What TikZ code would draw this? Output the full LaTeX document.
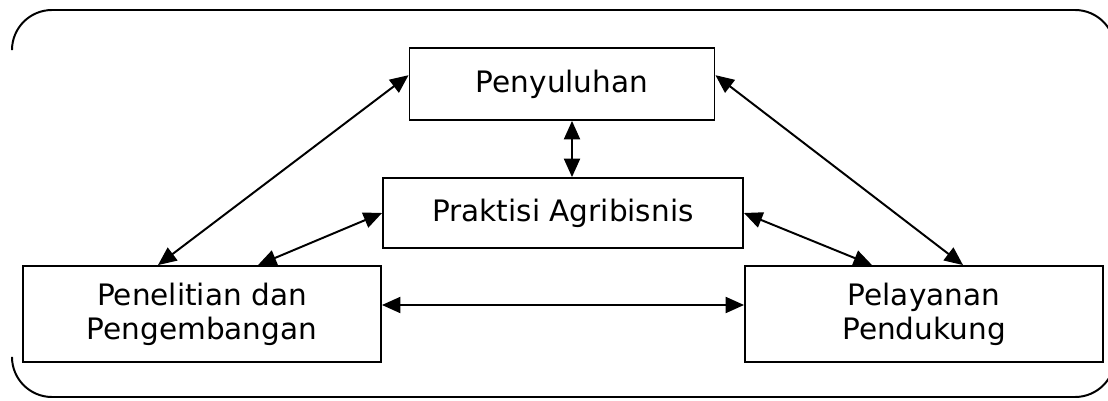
\documentclass[tikz,border=0pt]{standalone}
\usepackage{fontspec}
\setmainfont{DejaVu Sans}
\usepackage{tikz}
\usetikzlibrary{calc,math}
\usetikzlibrary{arrows.meta,positioning}

\begin{document}
\begin{tikzpicture}[x=0.025cm,y=-0.025cm,
        every node/.style={draw,line width=1.3pt,align=center,font=\fontsize{21}{24}\selectfont},
        dbl/.style={{Triangle[length=4.6mm,width=4mm]}-{Triangle[length=4.6mm,width=4mm]},line width=1.4pt}]
        \tikzmath{
            let \lft = 12;
            let \rgt = 1115;
        }
        \useasboundingbox (0,0) rectangle (1108,400);
        \clip (0,0) rectangle (1108,400);

        % frame, only its corners and long sides show
        \draw[line width=1.4pt,rounded corners=1cm] (\lft,50) -- (\lft,10) -- (\rgt,10) -- (\rgt,50);
        \draw[line width=1.4pt,rounded corners=1cm] (\lft,357) -- (\lft,397) -- (\rgt,397) -- (\rgt,357);

        \node[minimum width=7.625cm,minimum height=1.8cm] (yul) at (562,84) {Penyuluhan};
        \node[minimum width=9cm,minimum height=1.75cm] (prak) at (563,213) {Praktisi Agribisnis};
        \node[minimum width=8.95cm,minimum height=2.4cm] (pen) at (202,314) {Penelitian dan\\Pengembangan};
        \node[minimum width=8.95cm,minimum height=2.4cm] (yan) at (924,314) {Pelayanan\\Pendukung};

        \draw[dbl] ([yshift=0.22cm]yul.west) -- ([xshift=-1.1cm]pen.north);
        \draw[dbl] ([yshift=0.22cm]yul.east) -- ([xshift=0.975cm]yan.north);
        \draw[dbl] ([xshift=0.25cm]yul.south) -- ([xshift=0.225cm]prak.north);
        \draw[dbl] (prak.west) -- ([xshift=1.4cm]pen.north);
        \draw[dbl] (prak.east) -- ([xshift=-1.3cm]yan.north);
        \draw[dbl] ([yshift=0.225cm]pen.east) -- ([yshift=0.225cm]yan.west);
        % \draw[dashed] (pen) -- (yan);
    \end{tikzpicture}
\end{document}
